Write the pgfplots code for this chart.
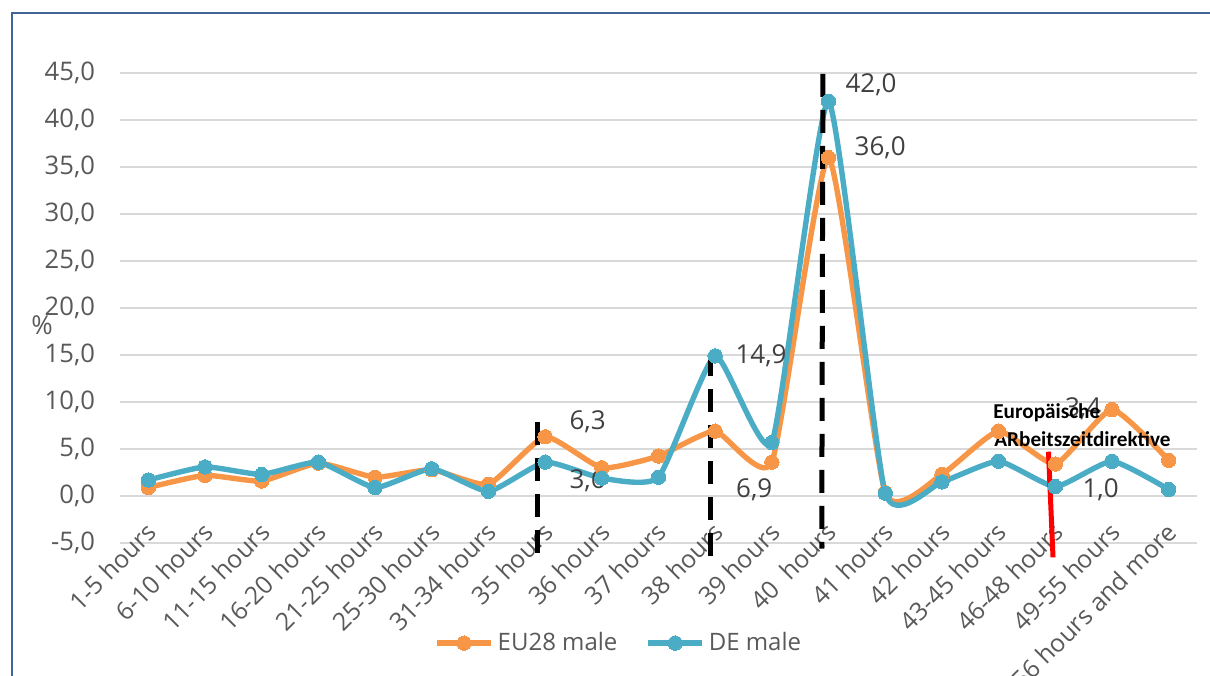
\documentclass[border=0pt]{standalone}
\usepackage{fontspec}
\setmainfont{Open Sans}
\newfontfamily\calibri{Carlito}
\usepackage{pgfplots}
\pgfplotsset{compat=1.18}
\definecolor{euorange}{HTML}{F79646}
\definecolor{deblue}{HTML}{4BACC6}
\definecolor{gridgray}{HTML}{D9D9D9}
\definecolor{ticktext}{HTML}{595959}
\definecolor{labeltext}{HTML}{404040}
\definecolor{framecol}{HTML}{416599}
\begin{document}
\begin{tikzpicture}
\path[use as bounding box] (0,0) rectangle (605pt,-337.5pt);
\draw[framecol, line width=0.9pt] (6pt,-340pt) -- (6pt,-6.5pt) -- (610pt,-6.5pt);
\begin{axis}[
  at={(60pt,-271.5pt)}, anchor=south west,
  scale only axis, width=538.5pt, height=235pt,
  xmin=-0.5, xmax=18.5, ymin=-5, ymax=45,
  clip=false,
  axis line style={draw=none},
  major tick length=0pt,
  ymajorgrids, grid style={gridgray, line width=1pt},
  ytick={-5,0,...,45},
  yticklabels={{-5,0},{0,0},{5,0},{10,0},{15,0},{20,0},{25,0},{30,0},{35,0},{40,0},{45,0}},
  yticklabel style={font=\fontsize{12.8}{15}\selectfont, text=ticktext, anchor=east, xshift=-9pt},
  xtick={0,...,18},
  xticklabels={1-5 hours,6-10 hours,11-15 hours,16-20 hours,21-25 hours,25-30 hours,31-34 hours,35 hours,36 hours,37 hours,38 hours,39 hours,40\ \ hours,41 hours,42 hours,43-45 hours,46-48 hours,49-55 hours,56 hours and more},
  xticklabel style={font=\fontsize{12.4}{14}\selectfont, text=ticktext, inner sep=0pt, xshift=5pt, yshift=4.5pt, rotate=45, anchor=base east},
  legend columns=2,
  legend style={at={(axis description cs:0.464,-0.213)}, anchor=center, draw=none, fill=none,
    font=\fontsize{12}{14}\selectfont, text=ticktext,
    /tikz/every even column/.append style={column sep=12pt}},
  legend image code/.code={\draw[mark repeat=2,mark phase=2,#1] plot coordinates {(0pt,0pt) (13.5pt,0pt) (27pt,0pt)};},
]
\addplot[euorange, line width=2.7pt, smooth, tension=0.3, mark=*, mark size=3.6pt, mark options={solid, fill=euorange, draw=euorange, line width=0pt}]
coordinates {(0,0.9) (1,2.2) (2,1.6) (3,3.5) (4,2.0) (5,2.8) (6,1.25) (7,6.3) (8,3.0) (9,4.25) (10,6.9) (11,3.6) (12,36.0) (13,0.35) (14,2.3) (15,6.9) (16,3.4) (17,9.2) (18,3.8)};
\addlegendentry{EU28 male}
\addplot[deblue, line width=2.7pt, smooth, tension=0.3, mark=*, mark size=3.6pt, mark options={solid, fill=deblue, draw=deblue, line width=0pt}]
coordinates {(0,1.7) (1,3.1) (2,2.3) (3,3.6) (4,0.9) (5,2.9) (6,0.5) (7,3.6) (8,1.9) (9,2.0) (10,14.9) (11,5.7) (12,42.0) (13,0.3) (14,1.5) (15,3.7) (16,1.0) (17,3.7) (18,0.7)};
\addlegendentry{DE male}
% vertical marker lines
\addplot[forget plot, black, line width=2.5pt, dash pattern=on 11.5pt off 6.5pt] coordinates {(6.87,7.9) (6.87,-6.3)};
\addplot[forget plot, black, line width=2.5pt, dash pattern=on 11.5pt off 6.5pt] coordinates {(9.91,15.2) (9.91,-7.6)};
\addplot[forget plot, black, line width=2.5pt, dash pattern=on 11.5pt off 6.5pt] coordinates {(11.9,44.9) (11.88,-5.6)};
\addplot[forget plot, red, line width=2.5pt] coordinates {(15.88,4.71) (15.96,-6.53)};
% data labels
\begin{scope}[every node/.style={font=\fontsize{13}{15}\selectfont, text=labeltext, anchor=center, inner sep=0pt}]
\node at (axis cs:7.75,7.85) {6,3};
\node at (axis cs:7.75,1.6) {3,6};
\node at (axis cs:10.81,14.9) {14,9};
\node at (axis cs:10.69,0.7) {6,9};
\node at (axis cs:12.75,43.8) {42,0};
\node at (axis cs:12.91,37.1) {36,0};
\node at (axis cs:16.49,9.3) {3,4};
\node at (axis cs:16.8,0.7) {1,0};
\end{scope}
\node[font=\calibri\bfseries\fontsize{10.6}{12}\selectfont, text=black, anchor=center, inner sep=0pt] at (axis cs:15.85,8.9) {Europäische};
\node[font=\calibri\bfseries\fontsize{10.6}{12}\selectfont, text=black, anchor=center, inner sep=0pt] at (axis cs:16.48,6.05) {ARbeitszeitdirektive};
\node[font=\fontsize{13}{15}\selectfont, text=ticktext, anchor=center] at (axis description cs:-0.0724,0.464) {\%};
\end{axis}
\end{tikzpicture}
\end{document}
